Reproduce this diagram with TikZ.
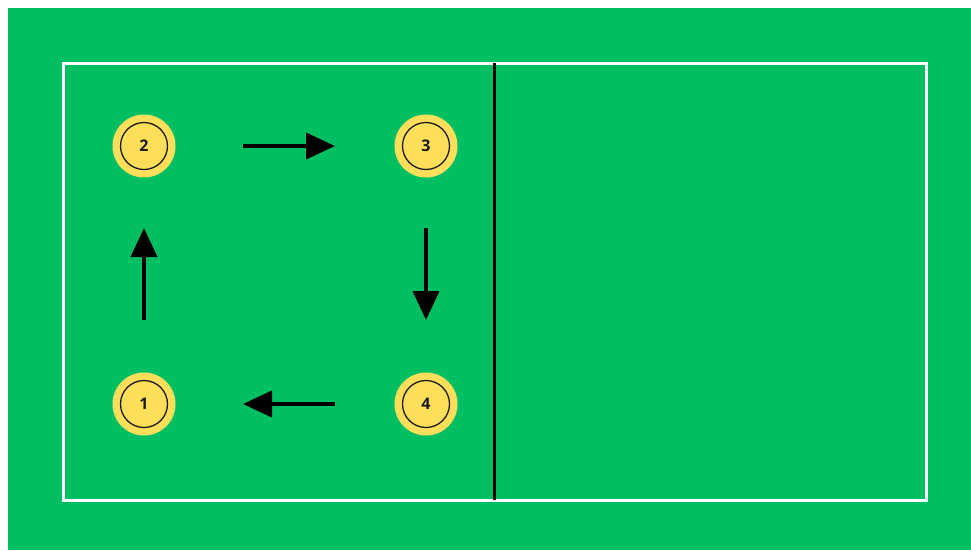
\documentclass[tikz,border=0pt]{standalone}
\usepackage{fontspec}
\setmainfont{Open Sans}
\usetikzlibrary{arrows.meta}
\definecolor{court}{RGB}{0,191,99}
\definecolor{playeryellow}{RGB}{255,222,89}
\definecolor{ink}{RGB}{26,26,26}
\tikzset{
  player/.style={circle, fill=playeryellow, minimum size=63pt, inner sep=0pt,
    font=\fontsize{16}{16}\selectfont\bfseries, text=ink,
    path picture={\draw[ink, line width=1.3pt] (path picture bounding box.center) circle[radius=23.5pt];}},
  courtline/.style={draw=white, line width=3pt},
  movearrow/.style={draw=black, line width=4pt, -{Triangle[length=29pt,width=26pt]}}
}
\begin{document}
\begin{tikzpicture}[x=1pt,y=-1pt]
  \useasboundingbox (0,0) rectangle (971,550);
  \fill[white] (0,0) rectangle (971,550);
  \fill[court] (8,8) rectangle (971,550);
  \draw[courtline] (63,63) rectangle (926,500);
  \draw[black, line width=3pt] (494,63) -- (494,500);
  \node[player] (p2) at (144,146) {2};
  \node[player] (p3) at (426,146) {3};
  \node[player] (p1) at (144,404) {1};
  \node[player] (p4) at (426,404) {4};
  \draw[movearrow, shorten <=99pt, shorten >=91pt] (p2.center) -- (p3.center);
  \draw[movearrow, shorten <=82pt, shorten >=84pt] (p3.center) -- (p4.center);
  \draw[movearrow, shorten <=91pt, shorten >=99pt] (p4.center) -- (p1.center);
  \draw[movearrow, shorten <=84pt, shorten >=82pt] (p1.center) -- (p2.center);
\end{tikzpicture}
\end{document}
